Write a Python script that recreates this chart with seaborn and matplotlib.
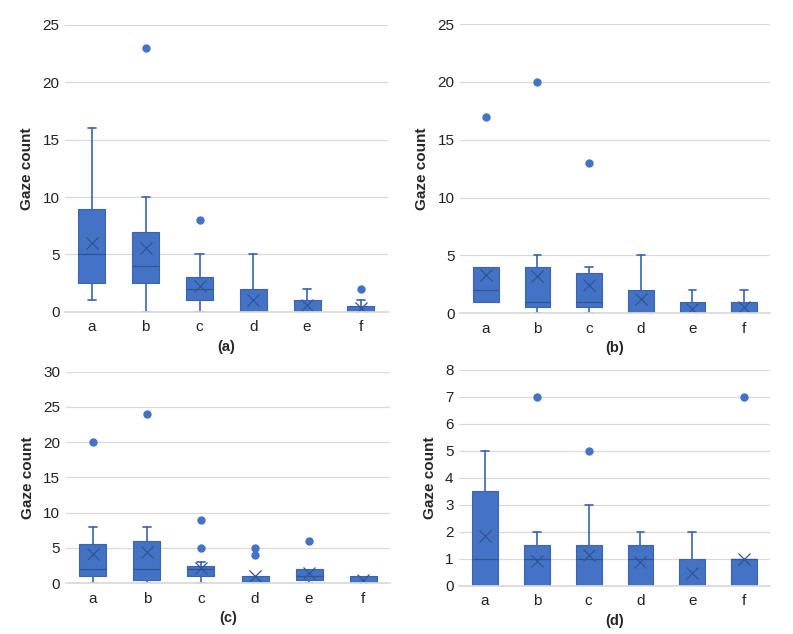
import matplotlib.pyplot as plt
import seaborn as sns

categories = ['a', 'b', 'c', 'd', 'e', 'f']

# panel (a)
a_low = [1, 0, 0, 0, 0, 0]
a_q1 = [2.5, 2.5, 1, 0, 0, 0]
a_med = [5, 4, 2, 0, 0, 0]
a_q3 = [9, 7, 3, 2, 1, 0.5]
a_high = [16, 10, 5, 5, 2, 1]
a_mean = [6.0, 5.6, 2.3, 1.0, 0.6, 0.3]
a_out = [[], [23], [8], [], [], [2]]

# panel (b)
b_low = [1, 0, 0, 0, 0, 0]
b_q1 = [1, 0.5, 0.5, 0, 0, 0]
b_med = [2, 1, 1, 0, 0, 0]
b_q3 = [4, 4, 3.5, 2, 1, 1]
b_high = [4, 5, 4, 5, 2, 2]
b_mean = [3.3, 3.2, 2.4, 1.2, 0.4, 0.5]
b_out = [[17], [20], [13], [], [], []]

# panel (c)
c_low = [0, 0, 0, 0, 0, 0]
c_q1 = [1, 0.5, 1, 0, 0.5, 0]
c_med = [2, 2, 2, 0, 1, 0]
c_q3 = [5.5, 6, 2.5, 1, 2, 1]
c_high = [8, 8, 3, 1, 2, 1]
c_mean = [4.1, 4.4, 2.2, 1.1, 1.5, 0.5]
c_out = [[20], [24], [5, 9], [4, 5], [6], []]

# panel (d)
d_low = [0, 0, 0, 0, 0, 0]
d_q1 = [0, 0, 0, 0, 0, 0]
d_med = [1, 1, 1, 1, 0, 1]
d_q3 = [3.5, 1.5, 1.5, 1.5, 1, 1]
d_high = [5, 2, 3, 2, 2, 1]
d_mean = [1.85, 0.93, 1.13, 0.87, 0.47, 1.0]
d_out = [[], [7], [5], [], [], [7]]

panels = [
    ('(a)', a_low, a_q1, a_med, a_q3, a_high, a_mean, a_out, 25, 5),
    ('(b)', b_low, b_q1, b_med, b_q3, b_high, b_mean, b_out, 25, 5),
    ('(c)', c_low, c_q1, c_med, c_q3, c_high, c_mean, c_out, 30, 5),
    ('(d)', d_low, d_q1, d_med, d_q3, d_high, d_mean, d_out, 8, 1),
]

# axes rectangles in figure fractions
rects = [
    [0.082, 0.508, 0.407, 0.453],
    [0.580, 0.506, 0.391, 0.456],
    [0.083, 0.080, 0.409, 0.334],
    [0.579, 0.076, 0.392, 0.341],
]

sns.set_theme(style='whitegrid')
plt.rcParams['font.family'] = ['Liberation Sans', 'DejaVu Sans']
plt.rcParams['font.size'] = 10

fill = '#4472C4'
dark = '#2F5597'
line = '#3A64B0'

fig = plt.figure(figsize=(7.93, 6.34), dpi=100)

for (cap, lo, q1, med, q3, hi, mean, out, ymax, step), rect in zip(panels, rects):
    ax = fig.add_axes(rect)
    stats = []
    for i, lab in enumerate(categories):
        stats.append({'label': lab, 'whislo': lo[i], 'q1': q1[i], 'med': med[i],
                      'q3': q3[i], 'whishi': hi[i], 'mean': mean[i], 'fliers': out[i]})
    parts = ax.bxp(stats, positions=range(len(categories)), widths=0.5, capwidths=0.15,
                   patch_artist=True, showmeans=True,
                   boxprops=dict(facecolor=fill, edgecolor=line, linewidth=0.8),
                   medianprops=dict(color=dark, linewidth=0.9),
                   whiskerprops=dict(color=line, linewidth=1.2),
                   capprops=dict(color=line, linewidth=1.2),
                   meanprops=dict(marker='x', markeredgecolor=dark, markersize=9,
                                  markeredgewidth=0.9),
                   flierprops=dict(marker='o', markerfacecolor=fill, markeredgecolor=fill,
                                   markersize=5))
    # no cap where the whisker has zero length
    for i in range(len(categories)):
        if lo[i] == q1[i]:
            parts['caps'][2 * i].set_visible(False)
        if hi[i] == q3[i]:
            parts['caps'][2 * i + 1].set_visible(False)
    ax.set_xlim(-0.5, len(categories) - 0.5)
    ax.set_ylim(0, ymax)
    ax.set_yticks(range(0, ymax + 1, step))
    ax.grid(axis='x', visible=False)
    ax.grid(axis='y', color='#D9D9D9', linewidth=0.9)
    ax.set_axisbelow(True)
    sns.despine(ax=ax, left=True, top=True, right=True)
    ax.spines['bottom'].set_color('#D9D9D9')
    ax.tick_params(axis='both', length=0, labelsize=11, colors='#222222')
    ax.tick_params(axis='x', pad=6)
    ax.tick_params(axis='y', pad=4)
    ax.set_ylabel('Gaze count', fontsize=11, fontweight='bold', labelpad=6)
    ax.set_xlabel(cap, fontsize=10.5, fontweight='bold', labelpad=4)

fig.savefig('out.png', dpi=100)
